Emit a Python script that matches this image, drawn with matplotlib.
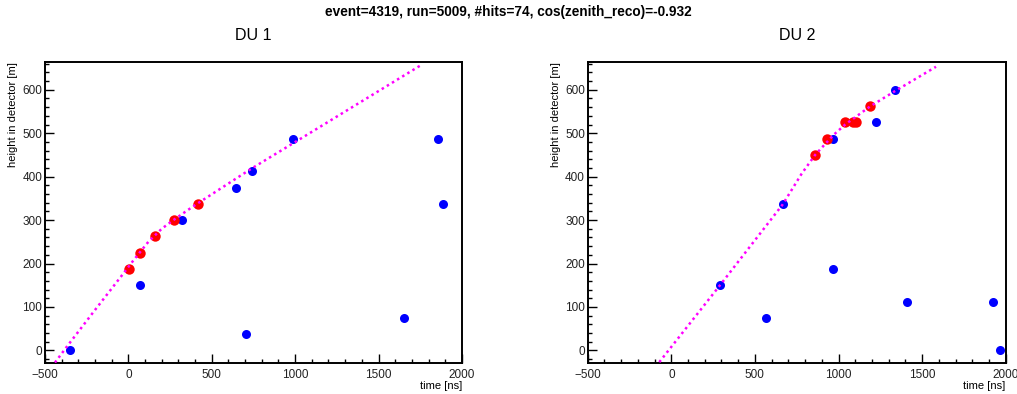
import matplotlib
matplotlib.use('Agg')
import matplotlib.pyplot as plt
from matplotlib.ticker import MultipleLocator

plt.rcParams['font.family'] = ['Liberation Sans', 'DejaVu Sans']

# DU 1 hits
du1_t = [-350, 70, 320, 647, 707, 743, 989, 1652, 1854, 1884]
du1_z = [0, 150, 300, 375, 37.5, 412.5, 487.5, 75, 487.5, 337.5]
# DU 1 selected hits
du1_sel_t = [4, 72, 158, 273, 419]
du1_sel_z = [187.5, 225, 262.5, 300, 337.5]
# DU 1 expected arrival curve
du1_fit_t = [-440, -370, -200, -40, 30, 120, 200, 270, 360, 430, 740, 1010, 1760]
du1_fit_z = [-28, 8, 93, 172, 207, 250, 280, 300, 324, 342, 419, 482, 658]

# DU 2 hits
du2_t = [291, 568, 666, 965, 965, 1224, 1340, 1411, 1924, 1968]
du2_z = [150, 75, 337.5, 187.5, 487.5, 525, 600, 112.5, 112.5, 0]
du2_sel_t = [858, 929, 1039, 1085, 1103, 1190]
du2_sel_z = [450, 487.5, 525, 525, 525, 562.5]
du2_fit_t = [-72, 291, 666, 780, 860, 970, 1040, 1190, 1338, 1583]
du2_fit_z = [-27, 150, 336, 407, 450, 496, 520, 562, 597, 653]

title = 'event=4319, run=5009, #hits=74, cos(zenith_reco)=-0.932'

fig = plt.figure(figsize=(10.17, 3.94), dpi=100)
fig.text(0.5, 0.969, title, ha='center', va='center', fontsize=9.8, fontweight='bold')

panels = [
    ('DU 1', [0.0442, 0.0787, 0.4100, 0.7640], du1_t, du1_z, du1_sel_t, du1_sel_z, du1_fit_t, du1_fit_z),
    ('DU 2', [0.5779, 0.0787, 0.4110, 0.7640], du2_t, du2_z, du2_sel_t, du2_sel_z, du2_fit_t, du2_fit_z),
]

for name, rect, t, z, st, sz, ft, fz in panels:
    ax = fig.add_axes(rect)
    ax.plot(t, z, 'o', color='#0000ff', markersize=6.5, markeredgewidth=0, zorder=2)
    ax.plot(st, sz, 'o', color='#ff0000', markersize=7.5, markeredgewidth=0, zorder=3)
    ax.plot(ft, fz, color='#ff00ff', lw=1.8, linestyle=(0, (1, 1.4)), zorder=4)
    ax.set_xlim(-500, 2000)
    ax.set_ylim(-29, 664)
    ax.xaxis.set_major_locator(MultipleLocator(500))
    ax.xaxis.set_minor_locator(MultipleLocator(100))
    ax.yaxis.set_major_locator(MultipleLocator(100))
    ax.yaxis.set_minor_locator(MultipleLocator(20))
    ax.tick_params(which='both', direction='in', top=False, right=False, width=1, colors='black',
                   labelsize=8.5, labelcolor='#222222')
    ax.tick_params(which='major', length=6.5)
    ax.tick_params(which='minor', length=3.2)
    ax.tick_params(axis='x', pad=4)
    ax.tick_params(axis='y', pad=2)
    for s in ax.spines.values():
        s.set_linewidth(1.4)
    ax.set_xlabel('time [ns]', loc='right', fontsize=8, labelpad=0)
    ax.set_ylabel('height in detector [m]', loc='top', fontsize=8, labelpad=3)
    xc = rect[0] + rect[2] / 2
    fig.text(xc, 0.909, name, ha='center', va='center', fontsize=11.5)

fig.savefig('out.png', dpi=100)
